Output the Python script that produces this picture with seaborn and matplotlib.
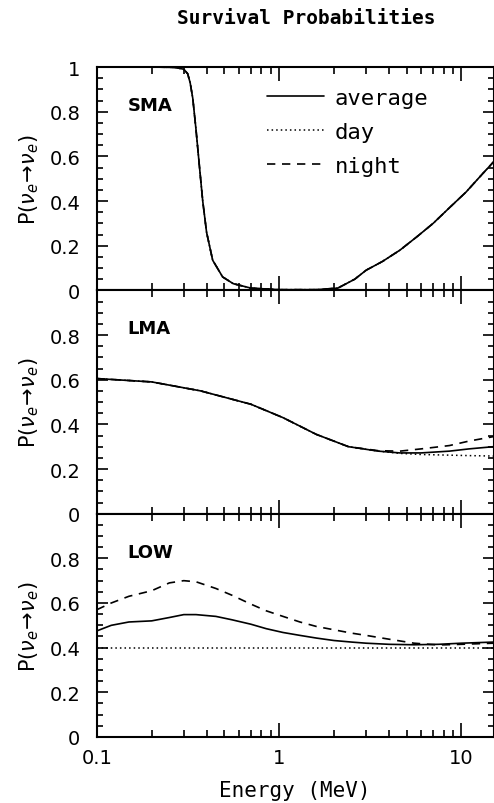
"""
Survival probabilities P(nu_e -> nu_e) vs energy for SMA, LMA and LOW solutions.
"""

import numpy as np
import matplotlib
matplotlib.use("Agg")
import matplotlib.pyplot as plt
from matplotlib.ticker import FixedLocator, MultipleLocator, LogLocator, NullFormatter
import seaborn as sns

# ── data (energy in MeV) ─────────────────────────────────────────────
SMA_E = [0.1, 0.2, 0.27, 0.3, 0.315, 0.325, 0.336, 0.35, 0.366, 0.381, 0.40,
         0.432, 0.49, 0.56, 0.7, 1.0, 1.6, 2.1, 2.6, 3.0, 3.7, 4.6, 5.7, 7.0,
         8.6, 10.6, 13.0, 15.0]
SMA_AVG = [1.0, 1.0, 0.998, 0.99, 0.97, 0.93, 0.86, 0.72, 0.55, 0.40, 0.26,
           0.135, 0.06, 0.03, 0.01, 0.003, 0.003, 0.01, 0.05, 0.09, 0.13, 0.18,
           0.24, 0.30, 0.37, 0.44, 0.52, 0.575]

LMA_E = [0.1, 0.2, 0.37, 0.7, 1.05, 1.6, 2.4, 3.5, 4.6, 6.0, 8.6, 11.0, 15.0]
LMA_AVG = [0.605, 0.59, 0.55, 0.49, 0.43, 0.355, 0.30, 0.28, 0.272, 0.272, 0.28, 0.29, 0.30]
LMA_DAY = [0.605, 0.59, 0.55, 0.49, 0.43, 0.355, 0.30, 0.28, 0.27, 0.265, 0.262, 0.26, 0.258]
LMA_NIGHT = [0.605, 0.59, 0.55, 0.49, 0.43, 0.355, 0.30, 0.282, 0.28, 0.29, 0.305, 0.325, 0.345]

LOW_E = [0.1, 0.12, 0.15, 0.2, 0.25, 0.3, 0.35, 0.45, 0.55, 0.7, 0.85, 1.05,
         1.3, 1.6, 2.0, 2.5, 3.0, 4.0, 5.5, 7.5, 10.0, 15.0]
LOW_AVG = [0.475, 0.50, 0.515, 0.52, 0.535, 0.548, 0.548, 0.54, 0.525, 0.505,
           0.485, 0.468, 0.455, 0.443, 0.432, 0.425, 0.42, 0.415, 0.413, 0.415,
           0.42, 0.425]
LOW_DAY = [0.40] * len(LOW_E)
LOW_NIGHT = [0.57, 0.60, 0.63, 0.655, 0.69, 0.70, 0.695, 0.665, 0.635, 0.595,
             0.565, 0.54, 0.515, 0.495, 0.48, 0.465, 0.455, 0.438, 0.42, 0.412,
             0.415, 0.42]

PANELS = ["SMA", "LMA", "LOW"]
Y_TICKS = [0, 0.2, 0.4, 0.6, 0.8, 1.0]
Y_LABELS = ["0", "0.2", "0.4", "0.6", "0.8", "1"]
X_TICKS = [0.1, 1, 10]
X_LABELS = ["0.1", "1", "10"]

MONO = "DejaVu Sans Mono"


def main():
    sns.set_style("ticks")
    plt.rcParams["font.family"] = ["DejaVu Sans"]
    for key in ["text.color", "axes.labelcolor", "xtick.color", "ytick.color"]:
        plt.rcParams[key] = "black"

    fig = plt.figure(figsize=(4.94, 8.04), dpi=100)
    gs = fig.add_gridspec(3, 1, left=0.196, right=0.999, top=0.9154,
                          bottom=0.0821, hspace=0)
    axes = [fig.add_subplot(gs[i]) for i in range(3)]

    curves = [
        (SMA_E, SMA_AVG, SMA_AVG, SMA_AVG),
        (LMA_E, LMA_AVG, LMA_DAY, LMA_NIGHT),
        (LOW_E, LOW_AVG, LOW_DAY, LOW_NIGHT),
    ]

    for i, (ax, name, (e, avg, day, night)) in enumerate(zip(axes, PANELS, curves)):
        sns.lineplot(x=e, y=day, ax=ax, color="black", linestyle=(0, (1, 2)),
                     linewidth=1.1, label="day")
        sns.lineplot(x=e, y=night, ax=ax, color="black", linestyle=(0, (5, 4)),
                     linewidth=1.2, label="night")
        sns.lineplot(x=e, y=avg, ax=ax, color="black", linestyle="-",
                     linewidth=1.2, label="average")

        ax.set_xscale("log")
        ax.set_xlim(0.1, 15)
        ax.set_ylim(0, 1)

        ax.yaxis.set_major_locator(FixedLocator(Y_TICKS))
        labels = Y_LABELS if i == 0 else Y_LABELS[:-1] + [""]
        ax.set_yticklabels(labels, fontsize=14)
        ax.yaxis.set_minor_locator(MultipleLocator(0.05))

        ax.xaxis.set_major_locator(FixedLocator(X_TICKS))
        ax.xaxis.set_minor_locator(LogLocator(base=10, subs=np.arange(2, 10)))
        ax.xaxis.set_minor_formatter(NullFormatter())
        if i == 2:
            ax.set_xticklabels(X_LABELS, fontsize=14)
        else:
            ax.set_xticklabels([])

        ax.tick_params(which="both", direction="in", top=True, right=True,
                       color="black", labelcolor="black", width=1.2)
        ax.tick_params(which="major", length=10)
        ax.tick_params(which="minor", length=5)
        ax.tick_params(axis="y", which="major", length=8, pad=12)
        ax.tick_params(axis="y", which="minor", length=4)
        ax.tick_params(axis="x", which="major", pad=8)

        for s in ax.spines.values():
            s.set_linewidth(1.5)
            s.set_color("black")

        ax.set_ylabel(r"P($\nu_e\!\rightarrow\!\nu_e$)", fontsize=15, labelpad=6)
        ax.text(0.078, 0.83, name, transform=ax.transAxes, fontsize=13,
                fontweight="bold", va="center")

        if i == 0:
            handles, lbls = ax.get_legend_handles_labels()
            order = [lbls.index(k) for k in ["average", "day", "night"]]
            ax.legend([handles[k] for k in order], [lbls[k] for k in order],
                      loc="upper left", bbox_to_anchor=(0.40, 0.955),
                      frameon=False, borderpad=0, handlelength=2.6,
                      handletextpad=0.45, labelspacing=0.62,
                      prop={"family": MONO, "size": 16})
        else:
            ax.get_legend().remove()

    axes[2].set_xlabel("Energy (MeV)", fontsize=15, family=MONO, labelpad=9)
    fig.align_ylabels(axes)
    fig.text(0.62, 0.977, "Survival Probabilities", ha="center", va="center",
             fontsize=14, family=MONO, fontweight="bold")

    fig.savefig("out.png", dpi=100)
    plt.close(fig)


if __name__ == "__main__":
    main()
